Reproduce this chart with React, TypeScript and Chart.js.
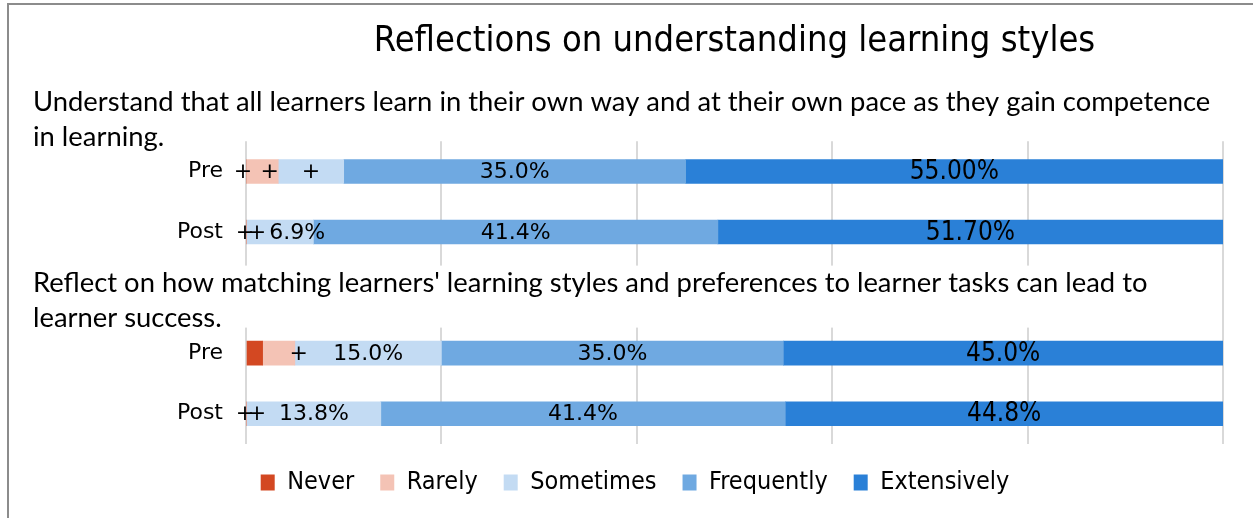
import React, { useEffect, useRef } from "react";
import { Chart, registerables } from "chart.js";

Chart.register(...registerables);

// ---------- data ----------
const chartTitle = "Reflections on understanding learning styles";
const categories = ["Pre", "Post", "", "Pre", "Post"];
const seriesNames = ["Never", "Rarely", "Sometimes", "Frequently", "Extensively"];

const never = [0, 0, null, 1.7, 0];
const rarely = [3.3, 0, null, 3.3, 0];
const sometimes = [6.7, 6.9, null, 15.0, 13.8];
const frequently = [35.0, 41.4, null, 35.0, 41.4];
const extensively = [55.0, 51.7, null, 45.0, 44.8];

const neverLabels = ["+", "+", "", "", "+"];
const rarelyLabels = ["+", "+", "", "+", "+"];
const sometimesLabels = ["+", "6.9%", "", "15.0%", "13.8%"];
const frequentlyLabels = ["35.0%", "41.4%", "", "35.0%", "41.4%"];
const extensivelyLabels = ["55.00%", "51.70%", "", "45.0%", "44.8%"];

const heading1Lines = [
  "Understand that all learners learn in their own way and at their own pace as they gain competence",
  "in learning.",
];
const heading2Lines = [
  "Reflect on how matching learners' learning styles and preferences to learner tasks can lead to",
  "learner success.",
];
const headingRows = [-1, 2]; // category slot each heading sits in

// ---------- styles ----------
const colors = ["#D34822", "#F4C3B5", "#C3DBF3", "#6FA9E1", "#2A80D7"];
const COND = '"DejaVu Sans Condensed", "DejaVu Sans", sans-serif';
const SANS = '"DejaVu Sans", sans-serif';
const HEAD = 'Lato, "Open Sans", sans-serif';
// small horizontal nudges for overlapping labels (dataset-index -> px)
const labelNudge: Record<string, number> = {
  "0-0": -3, "1-0": 7,
  "0-1": -1, "1-1": 11, "2-1": 17,
  "1-3": 20,
  "0-4": -1, "1-4": 11,
};

const values = [never, rarely, sometimes, frequently, extensively];
const labelSets = [neverLabels, rarelyLabels, sometimesLabels, frequentlyLabels, extensivelyLabels];
const headings = [heading1Lines, heading2Lines];

const labelPlugin = {
  id: "barLabels",
  afterDatasetsDraw(chart: any) {
    const ctx = chart.ctx;
    ctx.save();
    ctx.textBaseline = "middle";
    ctx.textAlign = "center";
    ctx.fillStyle = "#000";
    labelSets.forEach((labels, di) => {
      const meta = chart.getDatasetMeta(di);
      meta.data.forEach((bar: any, i: number) => {
        const txt = labels[i];
        if (!txt) return;
        const cx = (bar.x + bar.base) / 2 + (labelNudge[`${di}-${i}`] || 0);
        ctx.font = di === 4 ? `26px ${COND}` : `22px ${SANS}`;
        ctx.fillText(txt, cx, bar.y + 1);
      });
    });
    ctx.restore();
  },
};

const headingPlugin = {
  id: "headings",
  beforeDatasetsDraw(chart: any) {
    const ctx = chart.ctx;
    const y = chart.scales.y;
    ctx.save();
    ctx.font = `27.4px ${HEAD}`;
    ctx.textBaseline = "middle";
    ctx.textAlign = "left";
    headings.forEach((lines, hi) => {
      const cy = y.getPixelForValue(headingRows[hi]);
      const w = Math.max(...lines.map((l) => ctx.measureText(l).width));
      if (hi > 0) {
        ctx.fillStyle = "#fff";
        ctx.fillRect(20, cy - 27, w + 26, 62);
      }
      ctx.fillStyle = "#000";
      lines.forEach((l, li) => {
        ctx.fillText(l, 33, cy - 9 + li * 35);
      });
    });
    ctx.restore();
  },
};

export default function App() {
  const ref = useRef<HTMLCanvasElement | null>(null);

  useEffect(() => {
    document.body.style.margin = "0";
    const canvas = ref.current;
    if (!canvas) return;
    const chart = new Chart(canvas, {
      type: "bar",
      data: {
        labels: categories,
        datasets: seriesNames.map((name, i) => ({
          label: name,
          data: values[i],
          backgroundColor: colors[i],
          borderWidth: 0,
          barThickness: 24,
        })),
      },
      options: {
        animation: false,
        responsive: false,
        indexAxis: "y",
        layout: { padding: { left: 17, right: 0, top: 0, bottom: 13 } },
        plugins: {
          title: {
            display: true,
            text: chartTitle,
            fullSize: false,
            color: "#000",
            font: { family: COND, size: 36, weight: "normal" },
            padding: { top: 20, bottom: 78 },
          },
          legend: {
            position: "bottom",
            labels: {
              boxWidth: 14,
              boxHeight: 16,
              padding: 26,
              color: "#000",
              font: { family: COND, size: 25 },
            },
          },
          tooltip: { enabled: false },
        },
        scales: {
          x: {
            stacked: true,
            min: 0,
            max: 100,
            ticks: { display: false, stepSize: 20 },
            grid: { color: "#d9d9d9", lineWidth: 2, drawTicks: false },
            border: { display: false },
            afterFit: (s: any) => {
              s.height = 0;
            },
          },
          y: {
            stacked: true,
            ticks: { color: "#000", padding: 23, font: { family: SANS, size: 22 } },
            grid: { display: false, drawTicks: false },
            border: { display: false },
            afterFit: (s: any) => {
              s.width = 229;
            },
          },
          yRight: {
            axis: "y",
            type: "category",
            position: "right",
            labels: categories,
            ticks: { display: false },
            grid: { display: false, drawTicks: false },
            border: { display: false },
            afterFit: (s: any) => {
              s.width = 30;
            },
          },
        },
      },
      plugins: [headingPlugin, labelPlugin],
    } as any);
    return () => chart.destroy();
  }, []);

  return (
    <div style={{ position: "fixed", left: 0, top: 0, width: 1253, height: 518, background: "#fff" }}>
      <canvas ref={ref} width={1253} height={518} style={{ display: "block" }} />
      <div
        style={{
          position: "absolute",
          left: 7,
          top: 3,
          right: 0,
          bottom: 0,
          borderLeft: "2px solid #8c8c8c",
          borderTop: "2px solid #8c8c8c",
          pointerEvents: "none",
        }}
      />
    </div>
  );
}
